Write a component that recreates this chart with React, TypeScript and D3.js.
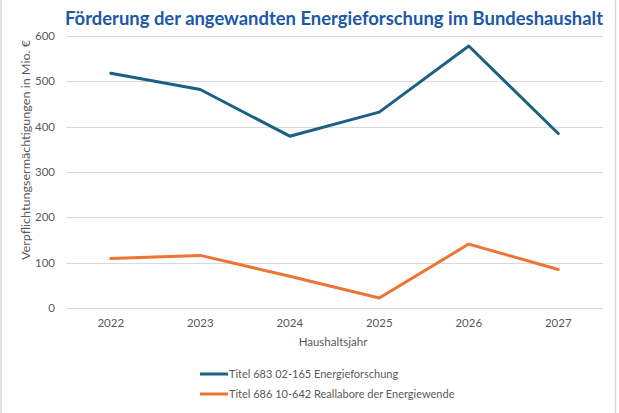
import React, { useEffect, useRef } from 'react';
import * as d3 from 'd3';

const years = ['2022', '2023', '2024', '2025', '2026', '2027'];
const energieforschung = [518, 482, 379, 432, 578, 385];
const reallabore = [109, 116, 70, 22, 141, 85];
const yTicks = [0, 100, 200, 300, 400, 500, 600];
const seriesNames = [
  'Titel 683 02-165 Energieforschung',
  'Titel 686 10-642 Reallabore der Energiewende',
];
const seriesColors = ['#1b6184', '#ed7432'];

const App = () => {
  const svgRef = useRef<SVGSVGElement | null>(null);

  useEffect(() => {
    if (!svgRef.current) return;
    const svg = d3.select(svgRef.current);
    svg.selectAll('*').remove();

    const width = 619;
    const height = 413;
    const font = 'Lato, "Open Sans", sans-serif';

    svg.append('rect').attr('width', width).attr('height', height).attr('fill', '#fff');

    // thin frame lines left and right
    svg.append('line').attr('x1', 1).attr('x2', 1).attr('y1', 0).attr('y2', height)
      .attr('stroke', '#d9d9d9').attr('stroke-width', 1.5);
    svg.append('line').attr('x1', 615.5).attr('x2', 615.5).attr('y1', 0).attr('y2', height)
      .attr('stroke', '#d9d9d9').attr('stroke-width', 1.5);

    const x = d3.scaleBand().domain(years).range([66, 603]);
    const y = d3.scaleLinear().domain([0, 600]).range([308, 36]);
    const cx = (d: string) => (x(d) as number) + x.bandwidth() / 2;

    // grid
    svg.append('g')
      .selectAll('line')
      .data(yTicks)
      .enter()
      .append('line')
      .attr('x1', 66)
      .attr('x2', 603)
      .attr('y1', d => Math.round(y(d)) + 0.5)
      .attr('y2', d => Math.round(y(d)) + 0.5)
      .attr('stroke', '#d9d9d9')
      .attr('stroke-width', 1);

    // y tick labels
    svg.append('g')
      .selectAll('text')
      .data(yTicks)
      .enter()
      .append('text')
      .attr('x', 55)
      .attr('y', d => y(d) + 4)
      .attr('text-anchor', 'end')
      .attr('font-family', font)
      .attr('font-size', 11.5)
      .attr('fill', '#595959')
      .text(d => d);

    // x tick labels
    svg.append('g')
      .selectAll('text')
      .data(years)
      .enter()
      .append('text')
      .attr('x', d => cx(d))
      .attr('y', 327)
      .attr('text-anchor', 'middle')
      .attr('font-family', font)
      .attr('font-size', 11.5)
      .attr('fill', '#595959')
      .text(d => d);

    // axis titles
    svg.append('text')
      .attr('x', 333)
      .attr('y', 346)
      .attr('text-anchor', 'middle')
      .attr('font-family', font)
      .attr('font-size', 11.5)
      .attr('fill', '#595959')
      .text('Haushaltsjahr');

    svg.append('text')
      .attr('transform', 'translate(30,150) rotate(-90)')
      .attr('text-anchor', 'middle')
      .attr('font-family', font)
      .attr('font-size', 11.5)
      .attr('fill', '#595959')
      .attr('textLength', 220)
      .attr('lengthAdjust', 'spacingAndGlyphs')
      .text('Verpflichtungsermächtigungen in Mio. €');

    // lines
    const line = d3.line<number>()
      .x((_, i) => cx(years[i]))
      .y(d => y(d));

    [energieforschung, reallabore].forEach((data, i) => {
      svg.append('path')
        .datum(data)
        .attr('fill', 'none')
        .attr('stroke', seriesColors[i])
        .attr('stroke-width', 3)
        .attr('stroke-linejoin', 'round')
        .attr('stroke-linecap', 'round')
        .attr('d', line);
    });

    // legend
    const legend = svg.append('g');
    seriesNames.forEach((name, i) => {
      const ly = 374 + i * 20;
      legend.append('line')
        .attr('x1', 200).attr('x2', 228)
        .attr('y1', ly).attr('y2', ly)
        .attr('stroke', seriesColors[i])
        .attr('stroke-width', 3);
      legend.append('text')
        .attr('x', 229)
        .attr('y', ly + 4)
        .attr('font-family', font)
        .attr('font-size', 11)
        .attr('fill', '#595959')
        .text(name);
    });

    // title
    svg.append('text')
      .attr('x', 334)
      .attr('y', 25)
      .attr('text-anchor', 'middle')
      .attr('font-family', font)
      .attr('font-weight', 'bold')
      .attr('font-size', 19)
      .attr('fill', '#1b58a6')
      .attr('textLength', 538)
      .attr('lengthAdjust', 'spacingAndGlyphs')
      .text('Förderung der angewandten Energieforschung im Bundeshaushalt');
  }, []);

  return (
    <svg
      ref={svgRef}
      width={619}
      height={413}
      style={{ position: 'absolute', left: 0, top: 0 }}
    ></svg>
  );
};

export default App;
